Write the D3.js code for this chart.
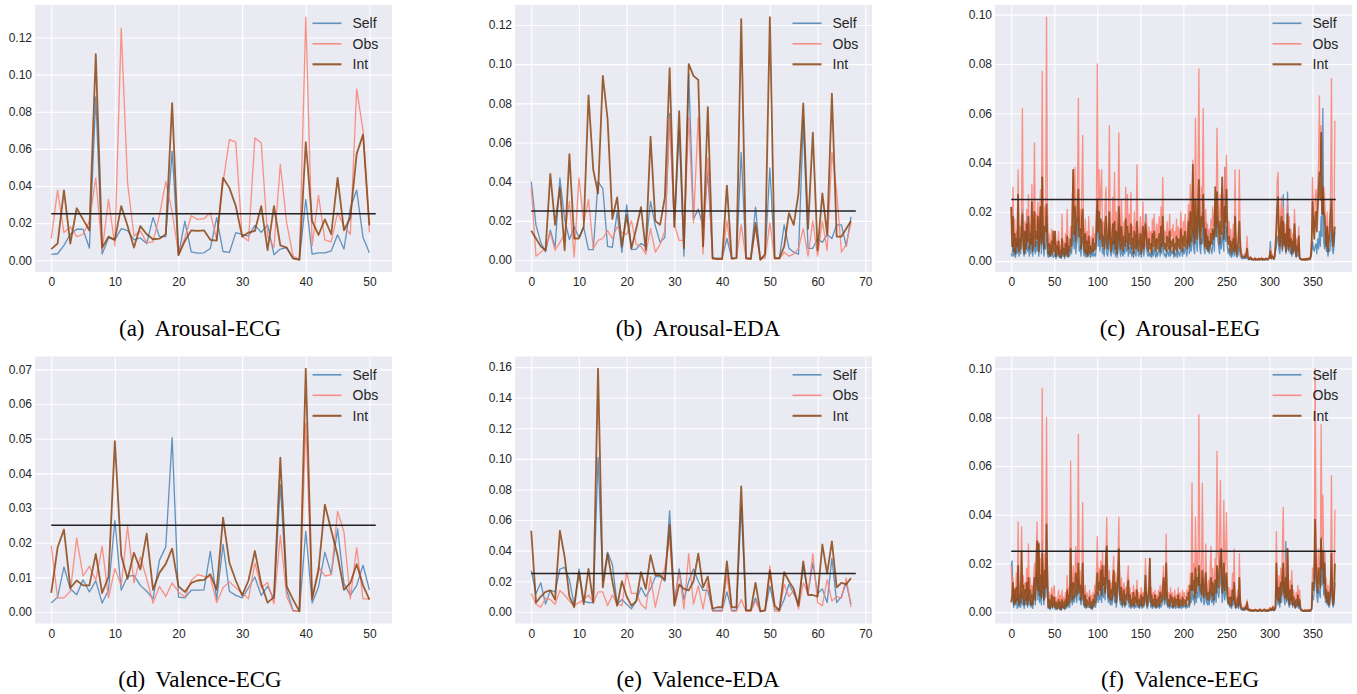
<!DOCTYPE html>
<html><head><meta charset="utf-8">
<script src="https://cdn.jsdelivr.net/npm/d3@7"></script>
<style>body{margin:0;background:#fff}svg{display:block}</style>
</head><body>
<svg id="chart" width="1357" height="694"></svg>
<script>
// ---------------- DATA ----------------
const seriesNames = ["Self", "Obs", "Int"];
const threshold = 0.025;

// ECG (51 segments)
const arousalECG_self = [
0.0032,0.0035,0.008,0.014,0.0167,0.0167,0.0065,0.088,0.0033,0.012,
0.011,0.017,0.016,0.011,0.012,0.009,0.023,0.0127,0.0127,0.0588,
0.003,0.021,0.0045,0.0038,0.004,0.0063,0.023,0.0047,0.0042,0.0149,
0.014,0.013,0.0188,0.015,0.019,0.003,0.006,0.0068,0.001,0.0005,
0.0328,0.0033,0.004,0.004,0.005,0.0137,0.006,0.028,0.0378,0.0122,
0.004];
const arousalECG_obs = [
0.0116,0.0378,0.0149,0.018,0.0127,0.014,0.021,0.0444,0.005,0.0328,
0.0077,0.125,0.0417,0.013,0.0158,0.0095,0.0099,0.024,0.0423,0.026,
0.0035,0.012,0.024,0.022,0.0224,0.0256,0.011,0.042,0.065,0.0636,
0.013,0.0104,0.0659,0.0632,0.013,0.007,0.0516,0.020,0.0023,0.0005,
0.131,0.0077,0.035,0.011,0.0099,0.0256,0.0184,0.014,0.0922,0.070,
0.015];
const arousalECG_int = [
0.006,0.009,0.0376,0.009,0.028,0.022,0.016,0.111,0.0068,0.0127,
0.011,0.0292,0.0184,0.0068,0.0184,0.014,0.0113,0.0116,0.014,0.0847,
0.0027,0.0104,0.0161,0.0158,0.0161,0.011,0.0106,0.0444,0.039,0.0292,
0.0127,0.0149,0.0158,0.0292,0.0054,0.0292,0.008,0.0068,0.001,0.0002,
0.0636,0.0211,0.0136,0.022,0.014,0.0444,0.0161,0.0229,0.0573,0.0677,
0.0188];
const valenceECG_self = [
0.0026,0.0043,0.013,0.0067,0.005,0.0093,0.0058,0.009,0.0026,0.0063,
0.0264,0.0063,0.0103,0.0106,0.0077,0.006,0.0038,0.0149,0.0188,0.0503,
0.0043,0.0041,0.0063,0.0063,0.0064,0.0175,0.0036,0.0195,0.006,0.0048,
0.0041,0.007,0.0101,0.0048,0.0074,0.0038,0.0368,0.0063,0.0005,0.0002,
0.0233,0.0026,0.0072,0.0173,0.0109,0.024,0.0082,0.0048,0.0077,0.0135,
0.0064];
const valenceECG_obs = [
0.0192,0.0041,0.0041,0.006,0.0213,0.0104,0.0132,0.0091,0.019,0.0041,
0.0125,0.0077,0.0247,0.0084,0.0159,0.0096,0.0026,0.0074,0.0045,0.0084,
0.0058,0.0043,0.0091,0.0108,0.0103,0.0101,0.0027,0.007,0.0087,0.007,
0.0055,0.0038,0.0142,0.007,0.0085,0.0024,0.0221,0.0045,0.0002,0.0002,
0.0545,0.0038,0.013,0.0104,0.0108,0.029,0.0231,0.0038,0.0186,0.0038,
0.0038];
const valenceECG_int = [
0.0055,0.0186,0.0238,0.007,0.0091,0.0077,0.0077,0.0168,0.0055,0.0101,
0.0493,0.0163,0.0096,0.0171,0.0123,0.0226,0.0064,0.0113,0.0139,0.0183,
0.0074,0.0058,0.0084,0.0091,0.0093,0.0109,0.0064,0.0272,0.0142,0.0091,
0.0048,0.0091,0.0176,0.0082,0.0027,0.0043,0.0445,0.0074,0.0036,0.0002,
0.0702,0.0038,0.012,0.031,0.0236,0.0163,0.0064,0.0084,0.0138,0.0077,
0.0036];

// EDA (68 segments)
const arousalEDA_self = [
0.0401,0.0178,0.009,0.0042,0.0153,0.0065,0.0418,0.0209,0.0104,0.017,
0.0116,0.0167,0.0053,0.0053,0.040,0.0365,0.007,0.0065,0.0243,0.0039,
0.0282,0.0053,0.0056,0.0085,0.007,0.0299,0.0175,0.009,0.0116,0.0748,
0.017,0.066,0.002,0.095,0.021,0.026,0.017,0.045,0.001,0.001,
0.001,0.011,0.001,0.001,0.055,0.001,0.001,0.027,0.0005,0.002,
0.047,0.001,0.001,0.018,0.006,0.004,0.003,0.071,0.006,0.006,
0.011,0.009,0.013,0.011,0.018,0.018,0.007,0.022];
const arousalEDA_obs = [
0.037,0.002,0.004,0.006,0.014,0.005,0.009,0.013,0.030,0.0017,
0.042,0.019,0.031,0.006,0.010,0.011,0.015,0.011,0.017,0.014,
0.013,0.020,0.008,0.007,0.003,0.016,0.004,0.008,0.015,0.072,
0.018,0.010,0.010,0.073,0.019,0.073,0.003,0.052,0.0005,0.0005,
0.001,0.020,0.0005,0.001,0.018,0.0005,0.0005,0.016,0.0005,0.001,
0.019,0.0005,0.0005,0.004,0.002,0.003,0.006,0.016,0.002,0.020,
0.002,0.020,0.005,0.055,0.035,0.004,0.008,0.019];
const arousalEDA_int = [
0.015,0.011,0.007,0.005,0.044,0.018,0.037,0.005,0.054,0.011,
0.011,0.017,0.084,0.046,0.034,0.094,0.072,0.021,0.032,0.007,
0.023,0.006,0.016,0.027,0.005,0.063,0.020,0.018,0.032,0.098,
0.017,0.076,0.006,0.100,0.094,0.092,0.007,0.078,0.001,0.0005,
0.0005,0.038,0.0008,0.001,0.123,0.001,0.0005,0.019,0.0001,0.003,
0.124,0.001,0.001,0.007,0.024,0.018,0.034,0.080,0.016,0.065,
0.005,0.034,0.013,0.085,0.012,0.012,0.016,0.020];
const valenceEDA_self = [
0.027,0.012,0.019,0.005,0.014,0.013,0.028,0.029,0.021,0.004,
0.028,0.007,0.006,0.006,0.101,0.020,0.039,0.031,0.005,0.008,
0.005,0.002,0.007,0.016,0.010,0.015,0.023,0.023,0.020,0.066,
0.006,0.028,0.008,0.020,0.028,0.020,0.014,0.014,0.001,0.001,
0.001,0.013,0.001,0.001,0.069,0.001,0.001,0.009,0.0003,0.001,
0.017,0.002,0.001,0.008,0.018,0.012,0.005,0.030,0.012,0.032,
0.012,0.015,0.006,0.035,0.006,0.010,0.019,0.005];
const valenceEDA_obs = [
0.012,0.005,0.003,0.009,0.008,0.005,0.014,0.011,0.007,0.004,
0.006,0.008,0.011,0.006,0.013,0.013,0.004,0.011,0.005,0.004,
0.026,0.012,0.012,0.005,0.002,0.023,0.003,0.017,0.029,0.048,
0.005,0.026,0.002,0.038,0.005,0.017,0.002,0.019,0.0003,0.0003,
0.0003,0.024,0.0003,0.0003,0.008,0.0003,0.0003,0.007,0.0003,0.001,
0.030,0.0003,0.0003,0.018,0.010,0.014,0.002,0.019,0.012,0.038,
0.006,0.004,0.021,0.007,0.010,0.009,0.022,0.003];
const valenceEDA_int = [
0.053,0.006,0.010,0.013,0.014,0.008,0.053,0.036,0.010,0.003,
0.026,0.005,0.028,0.006,0.159,0.016,0.038,0.020,0.004,0.020,
0.010,0.004,0.007,0.026,0.015,0.037,0.024,0.024,0.021,0.057,
0.004,0.018,0.015,0.014,0.020,0.038,0.016,0.023,0.002,0.003,
0.003,0.033,0.003,0.003,0.082,0.001,0.001,0.019,0.0003,0.001,
0.027,0.004,0.001,0.026,0.020,0.015,0.004,0.033,0.011,0.011,
0.010,0.044,0.025,0.046,0.016,0.019,0.018,0.022];

// EEG (377 segments) -- values in thousandths (x 0.001)
const EEG_UNIT = 0.001;
const arousalEEG_self_milli = [
3,2,9,2,5,1.5,8,3,12,2,
4,3,11,21,5,2,7,3,18,4,
6,2,9,3,14,2,10,5,3,8,
4,12,2,6,20,3,16,8,2,7,
5,18,3,1.5,4,2,6,2,3,1.5,
2,4,1,3,2,5,1.5,2,1,6,
2,3,1,4,2,7,1.5,3,2,5,
3,8,12,5,14,3,7,10,18,4,
6,2,9,10,3,2,5,1.5,4,2,
6,3,1.5,4,2,5,2,3,2,8,
25,6,12,4,9,11,3,5,2,7,
10,3,2,5,16,4,2,4,8,3,
11,2,6,1.5,4,15,5,2,7,3,
2,5,3,9,4,8,2,6,3,7,
2,4,1.5,6,3,2,11,4,2,3,
5,1.5,4,8,2,5,19,6,3,2,
4,2,3,1.5,5,2,6,3,1.5,4,
2,4,6,2,7,3,10,4,2,3,
1.5,5,3,2,6,2,4,3,5,1.5,
3,2,5,1.5,4,3,2,6,4,2,
5,3,6,4,2,5,19,3,10,4,
7,14,5,3,18,8,4,12,24,6,
3,9,7,20,5,3,16,14,4,12,
3,8,5,3,6,12,4,22,14,18,
9,6,3,10,5,12,8,4,38,8,
14,6,3,5,2,4,1.5,3,5,2,
9,3,1.5,2,4,6,2,1.5,1,1,
1,1.5,1,2,1,1,0.5,0.8,1,0.5,
0.5,0.8,0.5,1,0.5,0.8,0.5,0.5,1,0.5,
0.8,1,0.5,0.5,0.8,0.5,1,0.5,0.8,1,
1.5,8,1,2,1.5,0.8,1.5,4,6,10,
9,5,3,8,12,4,27,6,10,3,
5,28,4,9,3,6,2,5,3,8,
4,1.5,3,2,6,1,0.8,0.5,0.5,0.8,
0.5,0.8,0.5,1,0.5,0.8,1,0.5,1.5,3,
8,5,4,6,7,3,9,5,12,6,
18,10,62,8,5,12,4,6,2,5,
4,8,14,5,3,6,12];
const arousalEEG_obs_milli = [
22,10,30,8,17,5,12,9,37,6,
14,7,19,62,10,4,16,9,21,12,
27,8,15,11,31,6,18,48,9,19,
13,24,7,18,29,12,77,15,8,22,
17,99,23,6,11,4,9,13,5,12,
7,10,3,8,5,12,4,6,3,19,
5,8,3,11,6,21,4,9,7,14,
10,25,37,18,38,12,22,30,66,15,
21,9,28,51,11,7,17,6,12,4,
18,8,5,10,6,14,7,11,9,24,
80,20,37,14,29,37,10,16,8,22,
30,12,9,18,55,15,7,13,26,11,
36,9,20,6,14,52,18,8,25,12,
7,16,10,30,13,27,8,19,11,28,
9,14,6,20,12,8,39,15,7,11,
18,5,13,24,9,16,6,19,10,7,
14,8,12,5,17,9,19,11,6,15,
8,13,18,7,22,10,34,14,9,12,
6,16,11,8,19,7,13,10,15,5,
12,9,17,6,14,11,8,20,13,7,
16,10,19,12,8,15,23,9,31,13,
22,41,17,11,58,25,14,36,78,20,
12,30,24,62,18,10,21,8,15,6,
13,9,17,11,22,14,19,25,16,54,
30,21,12,27,18,30,24,14,38,26,
43,20,11,16,7,13,5,9,15,6,
37,12,4,8,14,37,10,5,3,2,
2,3,2,4,10,2,1.5,1,2,1,
1,0.5,1,1.5,0.8,1,0.5,1,1.2,0.8,
1,1.5,0.8,1,0.5,1,1.2,1,0.8,1.5,
2,5,1.5,3,2,1,2.5,9,18,33,
36,12,8,20,26,6,22,9,15,5,
10,24,7,18,8,13,4,11,6,21,
12,3,9,5,14,2,1,1,0.5,1,
0.8,1,0.5,1.2,0.8,1,1.5,1,3,10,
34,20,12,25,29,18,30,40,67,35,
55,26,22,30,27,16,9,20,5,12,
18,28,74,14,8,16,57];
const arousalEEG_int_milli = [
22,6,18,4,11,3,9,6,27,4,
9,5,14,19,7,3,12,5,15,8,
18,5,11,7,24,4,14,20,6,12,
9,18,4,12,22,7,34,11,5,14,
12,23,10,3,7,2,5,8,3,12,
4,12,2,6,3,8,2,4,1.5,9,
3,5,2,7,3,10,2,6,4,9,
6,16,37,11,22,8,14,19,29,10,
13,5,17,21,7,4,11,3,8,2,
10,5,3,6,4,9,4,7,5,14,
25,12,20,9,17,15,6,10,5,14,
18,8,5,11,20,9,4,8,15,7,
16,5,12,3,9,22,11,5,14,8,
4,10,6,17,8,14,5,11,7,15,
5,9,3,12,7,5,16,9,4,7,
11,3,8,14,5,10,15,11,6,4,
9,5,7,3,11,6,12,7,4,9,
5,8,11,4,14,6,18,9,5,7,
4,10,7,5,12,4,8,6,9,3,
7,5,10,4,9,7,5,13,8,4,
10,6,12,7,5,9,16,6,20,8,
13,39,11,7,25,14,9,22,33,12,
7,18,14,27,11,6,13,5,10,4,
8,6,11,7,13,9,12,30,10,28,
18,13,7,16,11,34,15,9,22,16,
29,12,7,10,4,8,3,6,9,4,
18,7,2.5,5,8,16,6,3,2,1.5,
1.5,2,1.5,3,5,1.5,1,0.8,1.5,0.8,
0.8,0.5,0.8,1,0.5,0.8,0.5,0.8,1,0.5,
0.8,1,0.5,0.8,0.5,0.8,1,0.8,0.5,1,
1.5,4,1,2,1.5,0.8,2,6,12,22,
26,9,6,14,18,5,16,7,11,4,
8,19,5,13,6,9,3,8,4,15,
8,2,6,4,10,1.5,0.8,0.8,0.5,0.8,
0.5,0.8,0.5,1,0.5,0.8,1,0.8,2,7,
24,14,9,17,20,12,21,28,36,25,
52,19,30,20,18,11,6,14,4,8,
12,19,25,10,6,11,14];
const valenceEEG_self_milli = [
19,21,5,2,8,3,6,1.5,10,2,
4,2,8,3,6,1.5,5,3,7,2,
9,3,5,2,4,1.5,6,8,3,12,
16,5,14,4,9,3,29,7,3,11,
6,22,8,1.5,3,1,2,4,1.5,3,
4,1,2,1,2,3,1,2,0.8,3,
1.5,2,1,3,1.5,5,2,4,2,12,
5,3,7,4,6,9,4,8,14,5,
6,3,5,10,3,2,4,1.5,3,2,
2,3,1.5,2,1,3,2,4,2,5,
8,4,7,5,11,4,14,6,10,5,
21,12,6,4,8,3,5,3,6,10,
4,7,2,5,9,21,5,3,6,2,
3,5,2,4,3,6,8,2,4,1.5,
3,2,4,1.5,3,2,5,2,3,1.5,
3,4,1.5,3,2,4,9,3,1.5,3,
5,10,2,4,1.5,3,2,4,1.5,3,
2,3,1.5,4,2,3,5,7,3,4,
8,3,2,3,1.5,4,2,3,1.5,2,
3,1.5,2,2,4,1.5,3,2,1.5,3,
2,3,2,1.5,3,2,4,2,6,4,
12,5,7,3,11,4,8,6,16,7,
5,4,14,6,3,5,9,4,3,5,
3,6,9,4,7,3,5,8,4,18,
8,6,10,12,26,4,7,14,5,8,
13,5,3,4,2,3,1.5,5,3,8,
2,1.5,2,3,1.5,7,2,1,1,0.8,
1,0.8,1.5,1,2,0.8,0.5,0.8,0.5,0.5,
0.5,0.5,0.3,0.5,0.8,0.5,0.3,0.5,0.5,0.8,
0.5,0.3,0.5,0.5,0.8,0.5,0.5,0.3,0.5,0.5,
0.8,1,0.5,0.8,1.5,0.5,0.8,1.5,13,5,
3,6,2,7,4,10,15,5,3,29,
4,12,5,2,6,3,8,2,4,3,
1.5,3,2,5,1.5,4,1,0.5,0.5,0.3,
0.3,0.5,0.3,0.3,0.5,0.3,0.5,0.3,0.5,1,
6,5,9,24,12,7,4,10,8,6,
31,11,18,7,25,4,6,3,5,2,
3,6,16,4,2,4,12];
const valenceEEG_obs_milli = [
19,8,14,4,10,6,16,9,37,5,
12,7,35,10,15,6,12,8,18,5,
28,9,14,6,11,4,13,20,8,24,
37,15,29,12,22,10,92,18,9,24,
14,80,20,4,8,3,6,10,4,9,
11,3,6,2.5,5,9,3,7,2,9,
4,6,3,8,4,15,5,10,6,62,
14,8,19,10,16,27,11,20,73,12,
17,8,14,45,9,5,11,4,8,6,
5,9,4,7,3,8,5,11,7,16,
31,10,18,12,21,9,25,14,19,11,
24,39,13,9,17,7,12,8,15,23,
10,16,6,13,20,39,11,7,14,5,
9,12,5,10,7,14,19,6,10,4,
8,5,11,4,9,6,13,5,8,3,
7,10,4,8,5,11,22,7,4,9,
12,22,6,10,4,8,5,9,3,7,
5,9,4,11,6,8,13,19,7,10,
32,9,5,8,4,10,6,8,3,6,
9,4,7,5,10,3,8,6,4,9,
5,8,6,4,9,7,11,5,16,12,
53,14,20,9,39,12,25,17,81,22,
15,11,53,19,9,14,28,10,7,13,
8,16,27,11,18,7,14,22,12,66,
25,17,30,54,16,11,20,46,14,22,
41,13,7,10,5,9,4,16,8,26,
6,3,5,9,4,24,7,3,2,1.5,
2,1.5,3,2,5,1.5,1,1.5,0.8,1,
0.8,1,0.5,1,1.2,0.8,0.5,1,0.8,1.5,
1,0.5,0.8,1,1.5,0.8,1,0.5,1.2,0.8,
1.5,2,1,1.5,2.5,1,1.5,3,33,12,
8,15,6,18,10,27,43,12,9,22,
7,26,10,5,13,8,17,4,9,6,
3,8,5,11,4,9,2,1,1,0.8,
0.5,1,0.8,0.5,1,0.8,1,0.5,1,2,
18,14,22,100,35,17,12,26,20,15,
77,30,48,18,25,9,14,6,11,4,
8,14,56,10,5,9,42];
const valenceEEG_int_milli = [
4,7,12,3,9,4,10,5,19,3,
7,4,25,6,11,3,9,5,12,3,
14,5,9,3,7,3,10,14,5,16,
29,9,28,7,15,6,24,12,5,17,
10,36,14,2,5,1.5,4,7,2,6,
6,2,4,1.5,3,5,1.5,4,1,5,
2,4,1.5,5,2.5,9,3,7,4,26,
10,5,12,6,10,16,7,12,20,8,
11,5,9,20,6,3,7,2,5,3,
3,6,2,4,1.5,5,3,7,4,10,
16,7,12,9,17,7,19,11,14,8,
23,27,10,6,13,5,9,5,11,17,
7,12,4,9,15,26,8,5,10,3,
6,9,3,7,5,10,13,4,7,2.5,
5,3,8,2.5,6,4,9,3,5,2,
5,7,2.5,6,3,8,15,5,2.5,6,
9,22,4,7,2.5,5,3,7,2,5,
3,6,2.5,8,4,5,9,14,5,7,
20,6,3,5,2.5,7,4,6,2,4,
6,2.5,5,3,7,2,5,4,2.5,6,
3,5,4,2.5,6,5,8,3,11,9,
16,9,13,6,18,8,14,11,19,12,
9,7,17,12,6,9,16,7,5,8,
5,10,14,7,12,5,9,13,8,19,
15,10,17,23,26,8,12,20,9,14,
16,8,4,6,3,6,2.5,9,5,12,
4,2,3,6,2.5,14,4,2,1.5,1,
1.5,1,2,1.5,4,1,0.8,1,0.5,0.8,
0.5,0.8,0.4,0.8,1,0.5,0.4,0.8,0.5,1,
0.8,0.4,0.5,0.8,1,0.5,0.8,0.4,0.8,0.5,
1,1.5,0.8,1,2,0.8,1,2,20,8,
5,10,4,12,7,16,20,8,6,14,
5,26,7,3,9,5,11,3,6,4,
2,5,3,7,2.5,5,1.5,0.8,0.8,0.5,
0.4,0.8,0.5,0.4,0.8,0.5,0.8,0.4,0.8,1.5,
12,9,14,38,20,11,8,18,14,10,
30,18,25,12,20,6,9,4,8,3,
6,10,24,7,3,6,20];

// tick values
const xTicksECG = [0, 10, 20, 30, 40, 50];
const xTicksEDA = [0, 10, 20, 30, 40, 50, 60, 70];
const xTicksEEG = [0, 50, 100, 150, 200, 250, 300, 350];
const yTicksA = [0, 0.02, 0.04, 0.06, 0.08, 0.10, 0.12];
const yTicksB = [0, 0.02, 0.04, 0.06, 0.08, 0.10, 0.12];
const yTicksC = [0, 0.02, 0.04, 0.06, 0.08, 0.10];
const yTicksD = [0, 0.01, 0.02, 0.03, 0.04, 0.05, 0.06, 0.07];
const yTicksE = [0, 0.02, 0.04, 0.06, 0.08, 0.10, 0.12, 0.14, 0.16];
const yTicksF = [0, 0.02, 0.04, 0.06, 0.08, 0.10];
const captionLabels = ["(a)", "(b)", "(c)", "(d)", "(e)", "(f)"];
const captionTitles = ["Arousal-ECG", "Arousal-EDA", "Arousal-EEG", "Valence-ECG", "Valence-EDA", "Valence-EEG"];

// ---------------- LAYOUT / STYLE ----------------
const PW = 357, PH = 267;
const colLeft = [35, 515, 995];
const rowTop = [5, 356.5];
const capCenters = [200, 698, 1180];
const capBaselines = [336, 687];
const colors = { Self: "#4682b4", Obs: "#fa8072", Int: "#8b4513" };
const widths = { Self: 1.3, Obs: 1.3, Int: 1.8 };
const tickFont = "'Liberation Sans', Arial, sans-serif";
const textColor = "#262626";

const panels = [
  { s: arousalECG_self, o: arousalECG_obs, i: arousalECG_int, unit: 1, xt: xTicksECG, yt: yTicksA, col: 0, row: 0 },
  { s: arousalEDA_self, o: arousalEDA_obs, i: arousalEDA_int, unit: 1, xt: xTicksEDA, yt: yTicksB, col: 1, row: 0 },
  { s: arousalEEG_self_milli, o: arousalEEG_obs_milli, i: arousalEEG_int_milli, unit: EEG_UNIT, xt: xTicksEEG, yt: yTicksC, col: 2, row: 0 },
  { s: valenceECG_self, o: valenceECG_obs, i: valenceECG_int, unit: 1, xt: xTicksECG, yt: yTicksD, col: 0, row: 1 },
  { s: valenceEDA_self, o: valenceEDA_obs, i: valenceEDA_int, unit: 1, xt: xTicksEDA, yt: yTicksE, col: 1, row: 1 },
  { s: valenceEEG_self_milli, o: valenceEEG_obs_milli, i: valenceEEG_int_milli, unit: EEG_UNIT, xt: xTicksEEG, yt: yTicksF, col: 2, row: 1 },
];

const svg = d3.select("#chart");
svg.append("rect").attr("width", 1357).attr("height", 694).attr("fill", "#fff");

panels.forEach((p, k) => {
  const left = colLeft[p.col], top = rowTop[p.row];
  const n = p.s.length;
  const series = { Self: p.s.map(v => v * p.unit), Obs: p.o.map(v => v * p.unit), Int: p.i.map(v => v * p.unit) };
  const all = [].concat(series.Self, series.Obs, series.Int, [threshold]);
  const lo = d3.min(all), hi = d3.max(all), span = hi - lo;
  const x = d3.scaleLinear().domain([-0.05 * n, 1.05 * n]).range([left, left + PW]);
  const y = d3.scaleLinear().domain([lo - 0.05 * span, hi + 0.05 * span]).range([top + PH, top]);

  const g = svg.append("g");
  g.append("rect").attr("x", left).attr("y", top).attr("width", PW).attr("height", PH).attr("fill", "#eaeaf2");

  // grid
  const gx = g.append("g").attr("transform", `translate(0,${top + PH})`)
    .call(d3.axisBottom(x).tickValues(p.xt).tickSize(-PH).tickFormat(""));
  const gy = g.append("g").attr("transform", `translate(${left},0)`)
    .call(d3.axisLeft(y).tickValues(p.yt).tickSize(-PW).tickFormat(""));
  [gx, gy].forEach(a => { a.select(".domain").remove(); a.selectAll("line").attr("stroke", "#fff").attr("stroke-width", 1.1); });

  // tick labels
  const lx = g.append("g").attr("transform", `translate(0,${top + PH})`)
    .call(d3.axisBottom(x).tickValues(p.xt).tickSize(0).tickPadding(5.5).tickFormat(d3.format("d")));
  const ly = g.append("g").attr("transform", `translate(${left},0)`)
    .call(d3.axisLeft(y).tickValues(p.yt).tickSize(0).tickPadding(3).tickFormat(d3.format(".2f")));
  [lx, ly].forEach(a => {
    a.select(".domain").remove();
    a.selectAll("text").attr("font-family", tickFont).attr("font-size", 12).attr("fill", textColor);
  });

  // lines
  const line = d3.line().x((d, j) => x(j)).y(d => y(d));
  seriesNames.forEach(name => {
    g.append("path").datum(series[name]).attr("d", line)
      .attr("fill", "none").attr("stroke", colors[name]).attr("stroke-width", widths[name])
      .attr("stroke-opacity", 0.85).attr("stroke-linejoin", "round");
  });
  // threshold
  g.append("path").datum([0, n]).attr("d", d3.line().x(d => x(d)).y(() => y(threshold)))
    .attr("stroke", "#222").attr("stroke-width", 1.5).attr("fill", "none");

  // legend
  const R = left + PW;
  seriesNames.forEach((name, j) => {
    const ly0 = top + 18.3 + j * 20.5;
    g.append("line").attr("x1", R - 79.5).attr("x2", R - 50.5).attr("y1", ly0).attr("y2", ly0)
      .attr("stroke", colors[name]).attr("stroke-width", widths[name] + 0.3).attr("stroke-opacity", 0.85);
    g.append("text").attr("x", R - 39.5).attr("y", ly0 + 5).text(name)
      .attr("font-family", tickFont).attr("font-size", 14).attr("fill", textColor);
  });

  // caption
  const cap = svg.append("text").attr("x", capCenters[p.col]).attr("y", capBaselines[p.row])
    .attr("text-anchor", "middle").attr("font-family", "'Liberation Serif', 'Times New Roman', serif")
    .attr("font-size", 23).attr("fill", "#000");
  cap.append("tspan").text(captionLabels[k]);
  cap.append("tspan").attr("dx", 10).text(captionTitles[k]);
});
</script>
</body></html>
